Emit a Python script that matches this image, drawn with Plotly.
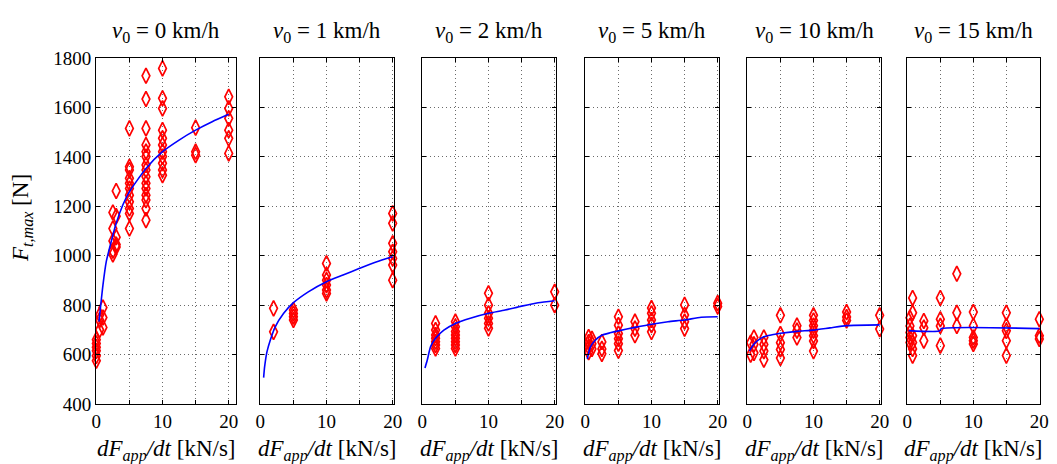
import plotly.graph_objects as go

W, H = 1057, 464

# ---------------- data ----------------
titles = ["0", "1", "2", "5", "10", "15"]
x_ticks = [0, 5, 10, 15, 20]
x_ticktext = ["0", "", "10", "", "20"]
y_ticks = [400, 600, 800, 1000, 1200, 1400, 1600, 1800]

# v0 = 0 km/h
p1_x = [0, 0, 0, 0, 0, 0, 0.5, 0.5, 0.5, 1, 1, 1,
        2.5, 2.5, 2.5, 2.5, 2.5, 3, 3, 3, 3, 3,
        5, 5, 5, 5, 5, 5, 5, 5, 5, 5, 5,
        7.5, 7.5, 7.5, 7.5, 7.5, 7.5, 7.5, 7.5, 7.5, 7.5, 7.5, 7.5, 7.5, 7.5, 7.5,
        10, 10, 10, 10, 10, 10, 10, 10, 10, 10, 10,
        15, 15, 15,
        20, 20, 20, 20, 20, 20]
p1_y = [575, 595, 615, 630, 645, 660, 700, 740, 760, 710, 750, 790,
        1175, 1110, 1060, 1020, 1005, 1262, 1160, 1075, 1045, 1035,
        1515, 1360, 1347, 1313, 1293, 1272, 1245, 1218, 1191, 1171, 1110,
        1728, 1634, 1515, 1448, 1421, 1401, 1367, 1347, 1320, 1293, 1272, 1245, 1225, 1191, 1144,
        1758, 1637, 1596, 1508, 1475, 1448, 1421, 1401, 1374, 1347, 1326,
        1518, 1421, 1407,
        1643, 1596, 1556, 1508, 1475, 1414]
c1_x = [0.4, 1, 1.5, 2.25, 3, 4, 5, 7.5, 10, 12.5, 15, 17.5, 20]
c1_y = [733, 881, 976, 1057, 1131, 1205, 1259, 1353, 1421, 1468, 1508, 1542, 1572]

# v0 = 1 km/h
p2_x = [2, 2, 5, 5, 5, 5, 10, 10, 10, 10, 10, 10, 20, 20, 20, 20, 20, 20, 20]
p2_y = [787, 692, 780, 766, 753, 740, 969, 922, 901, 881, 861, 847,
        1171, 1131, 1050, 1016, 989, 962, 901]
c2_x = [0.5, 0.65, 1, 1.5, 2.25, 3.5, 5, 7.25, 10, 12.5, 15, 17.5, 20]
c2_y = [507, 551, 611, 658, 712, 766, 810, 854, 895, 922, 949, 975, 996]

# v0 = 2 km/h
p3_x = [2, 2, 2, 2, 2, 2, 2, 5, 5, 5, 5, 5, 5, 5, 5, 10, 10, 10, 10, 10, 10, 20, 20]
p3_y = [726, 699, 679, 666, 652, 639, 625, 733, 713, 693, 679, 666, 652, 639, 625,
        848, 800, 767, 747, 726, 706, 854, 800]
c3_x = [0.4, 0.75, 1.25, 2, 3.25, 5, 7.25, 10, 12.5, 15, 17.5, 20]
c3_y = [546, 578, 632, 666, 699, 726, 747, 767, 780, 796, 810, 818]

# v0 = 5 km/h
p4_x = [0.5, 0.5, 0.5, 0.5, 1, 1, 1, 2.5, 2.5, 2.5, 5, 5, 5, 5, 5, 5,
        7.5, 7.5, 7.5, 10, 10, 10, 10, 10, 15, 15, 15, 15, 20, 20]
p4_y = [671, 651, 630, 610, 664, 644, 623, 651, 623, 603, 753, 719, 685, 664, 644, 616,
        733, 705, 678, 788, 767, 740, 719, 692, 801, 760, 733, 705, 808, 795]
c4_x = [0.3, 0.75, 1.5, 2.5, 3.75, 5, 7.5, 10, 12.5, 15, 17.5, 20]
c4_y = [582, 630, 658, 678, 688, 696, 710, 723, 733, 740, 751, 753]

# v0 = 10 km/h
p5_x = [0.5, 0.5, 1, 1, 1, 2.5, 2.5, 2.5, 2.5, 5, 5, 5, 5, 5, 7.5, 7.5, 7.5,
        10, 10, 10, 10, 10, 10, 10, 15, 15, 15, 20, 20]
p5_y = [648, 600, 669, 641, 607, 669, 641, 614, 579, 759, 683, 648, 621, 586, 717, 697, 669,
        759, 738, 717, 697, 676, 655, 614, 772, 752, 738, 759, 703]
c5_x = [0.3, 0.75, 1.5, 2.5, 3.75, 5, 7.5, 10, 12.5, 15, 20]
c5_y = [614, 634, 655, 672, 680, 686, 694, 699, 708, 717, 720]

# v0 = 15 km/h
p6_x = [0.4, 0.4, 0.4, 0.4, 0.4, 0.8, 0.8, 0.8, 0.8, 0.8, 0.8, 2.5, 2.5, 2.5,
        5, 5, 5, 5, 7.5, 7.5, 7.5, 10, 10, 10, 10, 10, 15, 15, 15, 15, 15, 20, 20, 20]
p6_y = [749, 716, 689, 669, 649, 829, 769, 676, 649, 623, 596, 736, 709, 656,
        829, 743, 716, 636, 927, 769, 716, 772, 716, 669, 656, 643, 769, 716, 696, 656, 596,
        743, 676, 663]
c6_x = [0.2, 4.8, 5.2, 20]
c6_y = [697, 695, 705, 705]

panels = [
    (p1_x, p1_y, c1_x, c1_y),
    (p2_x, p2_y, c2_x, c2_y),
    (p3_x, p3_y, c3_x, c3_y),
    (p4_x, p4_y, c4_x, c4_y),
    (p5_x, p5_y, c5_x, c5_y),
    (p6_x, p6_y, c6_x, c6_y),
]

# ---------------- layout geometry ----------------
px_domains = [(96, 236), (260, 394), (422, 556), (585, 719), (747, 881), (907, 1040)]
x_ranges = [[-0.05, 21.1], [-0.05, 20.2], [-0.05, 20.2], [-0.05, 20.2], [-0.05, 20.2], [-0.05, 20.1]]
top_px, bot_px = 58, 404
y_dom = [1 - bot_px / H, 1 - top_px / H]

FONT = "Liberation Serif"
GRID = "#6a6a6a"
fig = go.Figure()
layout = dict(
    width=W, height=H, margin=dict(l=0, r=0, t=0, b=0, autoexpand=False),
    paper_bgcolor="white", plot_bgcolor="white", showlegend=False,
    font=dict(family=FONT, color="black", size=19),
)
annotations = []

for i, (sx, sy, cx, cy) in enumerate(panels):
    n = "" if i == 0 else str(i + 1)
    xa, ya = "x" + n, "y" + n
    fig.add_trace(go.Scatter(
        x=sx, y=sy, mode="markers", xaxis=xa, yaxis=ya,
        marker=dict(symbol="diamond-tall-open", size=11, color="red",
                    line=dict(width=1.7, color="red")),
        cliponaxis=False,
    ))
    fig.add_trace(go.Scatter(
        x=cx, y=cy, mode="lines", xaxis=xa, yaxis=ya,
        line=dict(color="#0000ff", width=1.6, shape="spline", smoothing=0.6),
    ))
    d0, d1 = px_domains[i]
    common = dict(
        ticks="inside", ticklen=4, tickcolor="black",
        showline=True, linecolor="black", linewidth=1, mirror="ticks",
        showgrid=True, gridcolor=GRID, griddash="1px,3px", gridwidth=1,
        zeroline=False, automargin=False,
        tickfont=dict(family=FONT, size=19, color="black"),
    )
    layout["xaxis" + n] = dict(
        domain=[d0 / W, d1 / W], range=x_ranges[i], anchor=ya,
        tickvals=x_ticks, ticktext=x_ticktext, **common,
    )
    layout["yaxis" + n] = dict(
        domain=y_dom, range=[400, 1800], anchor=xa,
        tickvals=y_ticks, showticklabels=(i == 0), **common,
    )
    xc = (d0 + d1) / 2 / W
    annotations.append(dict(
        text="<i>v</i><sub>0</sub> = " + titles[i] + " km/h",
        x=xc, y=1 - 32 / H, xref="paper", yref="paper",
        xanchor="center", yanchor="middle", showarrow=False,
        font=dict(family=FONT, size=23, color="black"),
    ))
    annotations.append(dict(
        text="<i>dF</i><sub><i>app</i></sub><i>/dt</i> [kN/s]",
        x=xc, y=1 - 450 / H, xref="paper", yref="paper",
        xanchor="center", yanchor="middle", showarrow=False,
        font=dict(family=FONT, size=23, color="black"),
    ))

annotations.append(dict(
    text="<i>F</i><sub><i>t,max</i></sub> [N]",
    x=22 / W, y=1 - 218 / H, xref="paper", yref="paper",
    xanchor="center", yanchor="middle", showarrow=False, textangle=-90,
    font=dict(family=FONT, size=23, color="black"),
))
layout["annotations"] = annotations
fig.update_layout(**layout)
fig.write_html(
    "out.html",
    config={"displayModeBar": False, "staticPlot": True},
    post_script="document.body.style.margin='0';document.body.style.overflow='hidden';",
)
